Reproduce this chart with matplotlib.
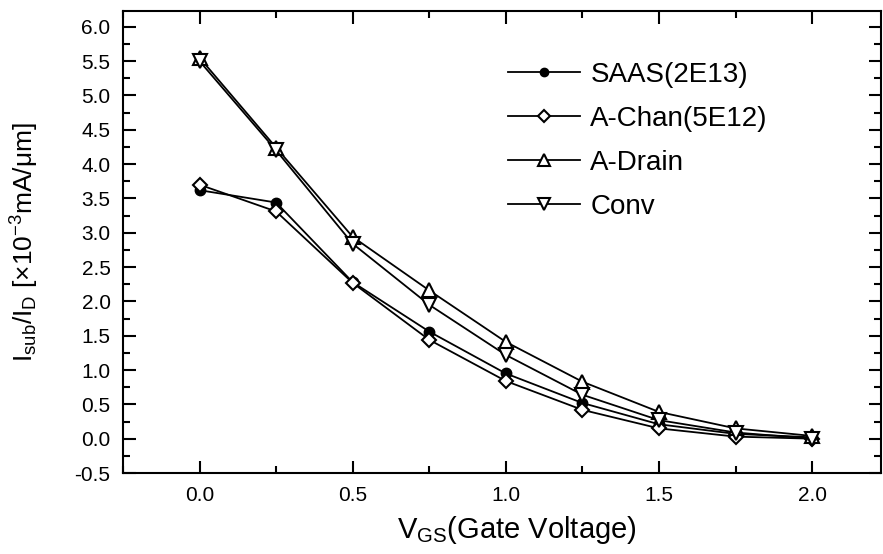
import matplotlib
matplotlib.use("Agg")
import matplotlib.pyplot as plt
from matplotlib.ticker import MultipleLocator, FormatStrFormatter

plt.rcParams['font.family'] = ['Liberation Sans', 'DejaVu Sans']
plt.rcParams['mathtext.default'] = 'regular'

vgs = [0.0, 0.25, 0.5, 0.75, 1.0, 1.25, 1.5, 1.75, 2.0]
saas = [3.62, 3.44, 2.28, 1.56, 0.95, 0.52, 0.21, 0.07, 0.02]
a_chan = [3.70, 3.31, 2.27, 1.44, 0.84, 0.42, 0.15, 0.03, 0.0]
a_drain = [5.55, 4.24, 2.94, 2.16, 1.41, 0.83, 0.39, 0.15, 0.04]
conv = [5.50, 4.20, 2.84, 1.95, 1.22, 0.64, 0.27, 0.09, 0.0]

fig = plt.figure(figsize=(8.83, 5.54), dpi=100)
ax = fig.add_axes([0.1393, 0.1462, 0.8584, 0.8339])

lw = 1.3
ax.plot(vgs, saas, '-', color='k', lw=lw, marker='o', ms=7.5,
        mfc='k', mec='k', label='SAAS(2E13)')
ax.plot(vgs, a_chan, '-', color='k', lw=lw, marker='D', ms=7.5,
        mfc='white', mec='k', mew=1.5, label='A-Chan(5E12)')
ax.plot(vgs, a_drain, '-', color='k', lw=lw, marker='^', ms=10,
        mfc='white', mec='k', mew=1.5, label='A-Drain')
ax.plot(vgs, conv, '-', color='k', lw=lw, marker='v', ms=10,
        mfc='white', mec='k', mew=1.5, label='Conv')

ax.set_xlim(-0.25, 2.225)
ax.set_ylim(-0.5, 6.23)
ax.xaxis.set_major_locator(MultipleLocator(0.5))
ax.xaxis.set_minor_locator(MultipleLocator(0.25))
ax.yaxis.set_major_locator(MultipleLocator(0.5))
ax.yaxis.set_minor_locator(MultipleLocator(0.25))
ax.xaxis.set_major_formatter(FormatStrFormatter('%.1f'))
ax.yaxis.set_major_formatter(FormatStrFormatter('%.1f'))

ax.tick_params(which='both', direction='in', top=True, right=True,
               width=1.5, labelsize=15)
ax.tick_params(which='major', length=9, pad=9)
ax.tick_params(which='minor', length=5)
for s in ax.spines.values():
    s.set_linewidth(1.5)

ax.set_xlabel('V$_{GS}$(Gate Voltage)', fontsize=21)
ax.set_ylabel(r'I$_{sub}$/I$_{D}$ [$\times$10$^{-3}$mA/$\mu$m]', fontsize=19)
ax.xaxis.set_label_coords(0.52, -0.089)
ax.yaxis.set_label_coords(-0.108, 0.5)

ax.legend(loc='upper left', bbox_to_anchor=(0.508, 0.89), frameon=False,
          fontsize=20, handlelength=2.6, handletextpad=0.36,
          labelspacing=0.65, borderpad=0, borderaxespad=0, markerscale=0.8)

fig.savefig('out.png', dpi=100)
